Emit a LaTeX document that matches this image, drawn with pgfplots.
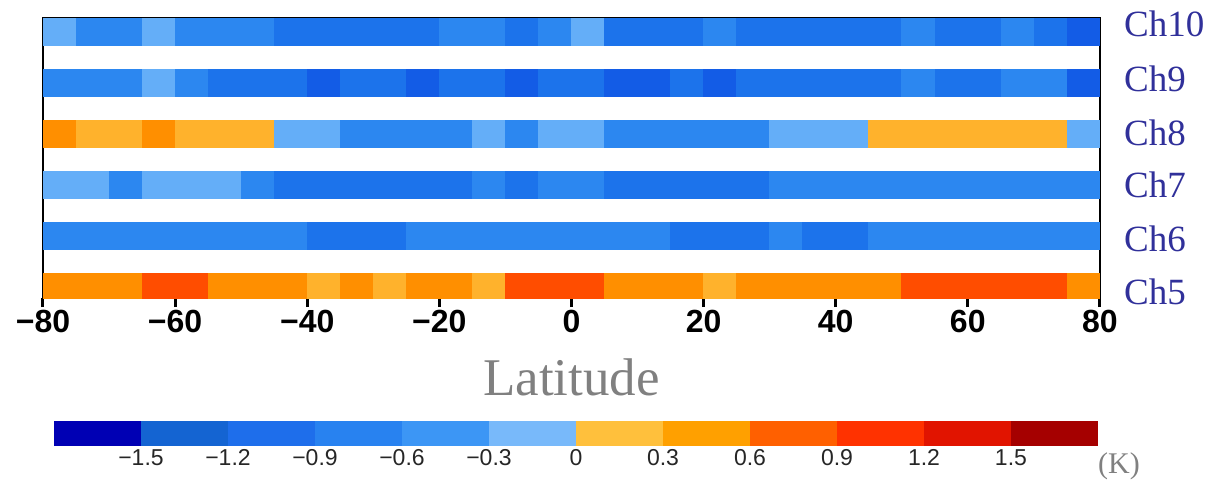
\documentclass[border=0pt]{standalone}
\usepackage{pgfplots}
\pgfplotsset{compat=1.18}
\usepackage{pgfplotstable}
\usepackage{fontspec}
\setmainfont{Liberation Serif}
\setsansfont{Liberation Sans}

\definecolor{cL}{HTML}{64AEF8}
\definecolor{cM}{HTML}{2C87F0}
\definecolor{cD}{HTML}{1C73EB}
\definecolor{cX}{HTML}{135CE6}
\definecolor{cY}{HTML}{FFB22C}
\definecolor{cO}{HTML}{FF8F00}
\definecolor{cR}{HTML}{FF4D00}
\definecolor{k1}{HTML}{0000B4}
\definecolor{k2}{HTML}{1464D2}
\definecolor{k3}{HTML}{1E6EEB}
\definecolor{k4}{HTML}{2882F0}
\definecolor{k5}{HTML}{3C96F5}
\definecolor{k6}{HTML}{78B9FA}
\definecolor{k7}{HTML}{FFC03C}
\definecolor{k8}{HTML}{FFA000}
\definecolor{k9}{HTML}{FF6000}
\definecolor{k10}{HTML}{FF3200}
\definecolor{k11}{HTML}{E11400}
\definecolor{k12}{HTML}{A50000}
\definecolor{chblue}{HTML}{30309A}

\pgfdeclareplotmark{cell}{\pgfpathrectangle{\pgfpoint{-16.75pt}{-14pt}}{\pgfpoint{33.5pt}{28pt}}\pgfusepathqfill}
\pgfdeclareplotmark{cbcell}{\pgfpathrectangle{\pgfpoint{-43.7pt}{-12.5pt}}{\pgfpoint{87.4pt}{25pt}}\pgfusepathqfill}

\pgfplotsset{
  cellrow/.style={scatter, only marks, mark=cell, scatter src=explicit symbolic,
    scatter/classes={L={fill=cL,draw=none},M={fill=cM,draw=none},D={fill=cD,draw=none},
      X={fill=cX,draw=none},Y={fill=cY,draw=none},O={fill=cO,draw=none},R={fill=cR,draw=none}}},
  cbcells/.style={scatter, only marks, mark=cbcell, scatter src=explicit symbolic,
    scatter/classes={k1={fill=k1},k2={fill=k2},k3={fill=k3},k4={fill=k4},k5={fill=k5},k6={fill=k6},
      k7={fill=k7},k8={fill=k8},k9={fill=k9},k10={fill=k10},k11={fill=k11},k12={fill=k12}}},
}

% cell centres (5 degree bins) and class of each channel
\pgfplotstableread{
x     c5 c6 c7 c8 c9 c10
-77.5 O  M  L  O  M  L
-72.5 O  M  L  Y  M  M
-67.5 O  M  M  Y  M  M
-62.5 R  M  L  O  L  L
-57.5 R  M  L  Y  M  M
-52.5 O  M  L  Y  D  M
-47.5 O  M  M  Y  D  M
-42.5 O  M  D  L  D  D
-37.5 Y  D  D  L  X  D
-32.5 O  D  D  M  D  D
-27.5 Y  D  D  M  D  D
-22.5 O  M  D  M  X  D
-17.5 O  M  D  M  D  M
-12.5 Y  M  M  L  D  M
-7.5  R  M  D  M  X  D
-2.5  R  M  M  L  D  M
2.5   R  M  M  L  D  L
7.5   O  M  D  M  X  D
12.5  O  M  D  M  X  D
17.5  O  D  D  M  D  D
22.5  Y  D  D  M  X  M
27.5  O  D  D  M  D  D
32.5  O  M  M  L  D  D
37.5  O  D  M  L  D  D
42.5  O  D  M  L  D  D
47.5  O  M  M  Y  D  D
52.5  R  M  M  Y  M  M
57.5  R  M  M  Y  D  D
62.5  R  M  M  Y  D  D
67.5  R  M  M  Y  M  M
72.5  R  M  M  Y  M  D
77.5  O  M  M  L  X  X
}\data

\pgfplotstableread{
x     c
-1.65 k1
-1.35 k2
-1.05 k3
-0.75 k4
-0.45 k5
-0.15 k6
0.15  k7
0.45  k8
0.75  k9
1.05  k10
1.35  k11
1.65  k12
}\cbdata

\begin{document}
\begin{tikzpicture}
\begin{axis}[
  name=main,
  at={(0,0)}, anchor=south west,
  scale only axis, width=1057pt, height=280pt,
  xmin=-80, xmax=80, ymin=-0.216, ymax=5.275,
  clip marker paths=true,
  axis line style={line width=1.6pt, black},
  xtick={-80,-60,-40,-20,0,20,40,60,80},
  xticklabels={−80,−60,−40,−20,0,20,40,60,80},
  xtick pos=left,
  tick align=outside,
  major tick length=9pt,
  xtick style={line width=3pt, black},
  xticklabel style={font=\fontsize{32}{34}\selectfont\sffamily\bfseries, inner sep=0pt, yshift=-3pt},
  ytick={-0.098,0.941,2.0,3.029,4.078,5.157},
  yticklabels={Ch5,Ch6,Ch7,Ch8,Ch9,Ch10},
  ytick pos=right, yticklabel pos=right,
  ytick style={draw=none},
  yticklabel style={font=\fontsize{37}{37}\selectfont, color=chblue, anchor=west, inner sep=0pt, xshift=15pt},
  xlabel={Latitude},
  xlabel style={at={(axis description cs:0.5,0)}, anchor=base, yshift=-97pt,
    font=\fontsize{53}{53}\selectfont, color=black!50},
]
\addplot[cellrow] table[x=x, y expr=0, meta=c5] \data;
\addplot[cellrow] table[x=x, y expr=1, meta=c6] \data;
\addplot[cellrow] table[x=x, y expr=2, meta=c7] \data;
\addplot[cellrow] table[x=x, y expr=3, meta=c8] \data;
\addplot[cellrow] table[x=x, y expr=4, meta=c9] \data;
\addplot[cellrow] table[x=x, y expr=5, meta=c10] \data;
\end{axis}

\coordinate (cbpos) at ([shift={(11pt,-123pt)}]main.south west);

\begin{axis}[
  at={(cbpos)}, anchor=north west,
  scale only axis, width=1044pt, height=25pt,
  xmin=-1.8, xmax=1.8, ymin=0, ymax=1,
  clip marker paths=true,
  axis line style={draw=none},
  ytick=\empty,
  xtick={-1.5,-1.2,-0.9,-0.6,-0.3,0,0.3,0.6,0.9,1.2,1.5},
  xticklabels={−1.5,−1.2,−0.9,−0.6,−0.3,0,0.3,0.6,0.9,1.2,1.5},
  major tick length=0pt,
  xtick style={draw=none},
  xticklabel style={font=\fontsize{23}{23}\selectfont\sffamily, color=black!85},
  xlabel={(K)},
  xlabel style={at={(axis description cs:1,0)}, anchor=west, inner sep=0pt, yshift=-20pt,
    font=\fontsize{30}{30}\selectfont, color=black!50},
]
\addplot[cbcells] table[x=x, y expr=0.5, meta=c] \cbdata;
\end{axis}

\path ([shift={(-43pt,-185pt)}]main.south west) rectangle ([shift={(1168pt,298pt)}]main.south west);
\end{tikzpicture}
\end{document}
